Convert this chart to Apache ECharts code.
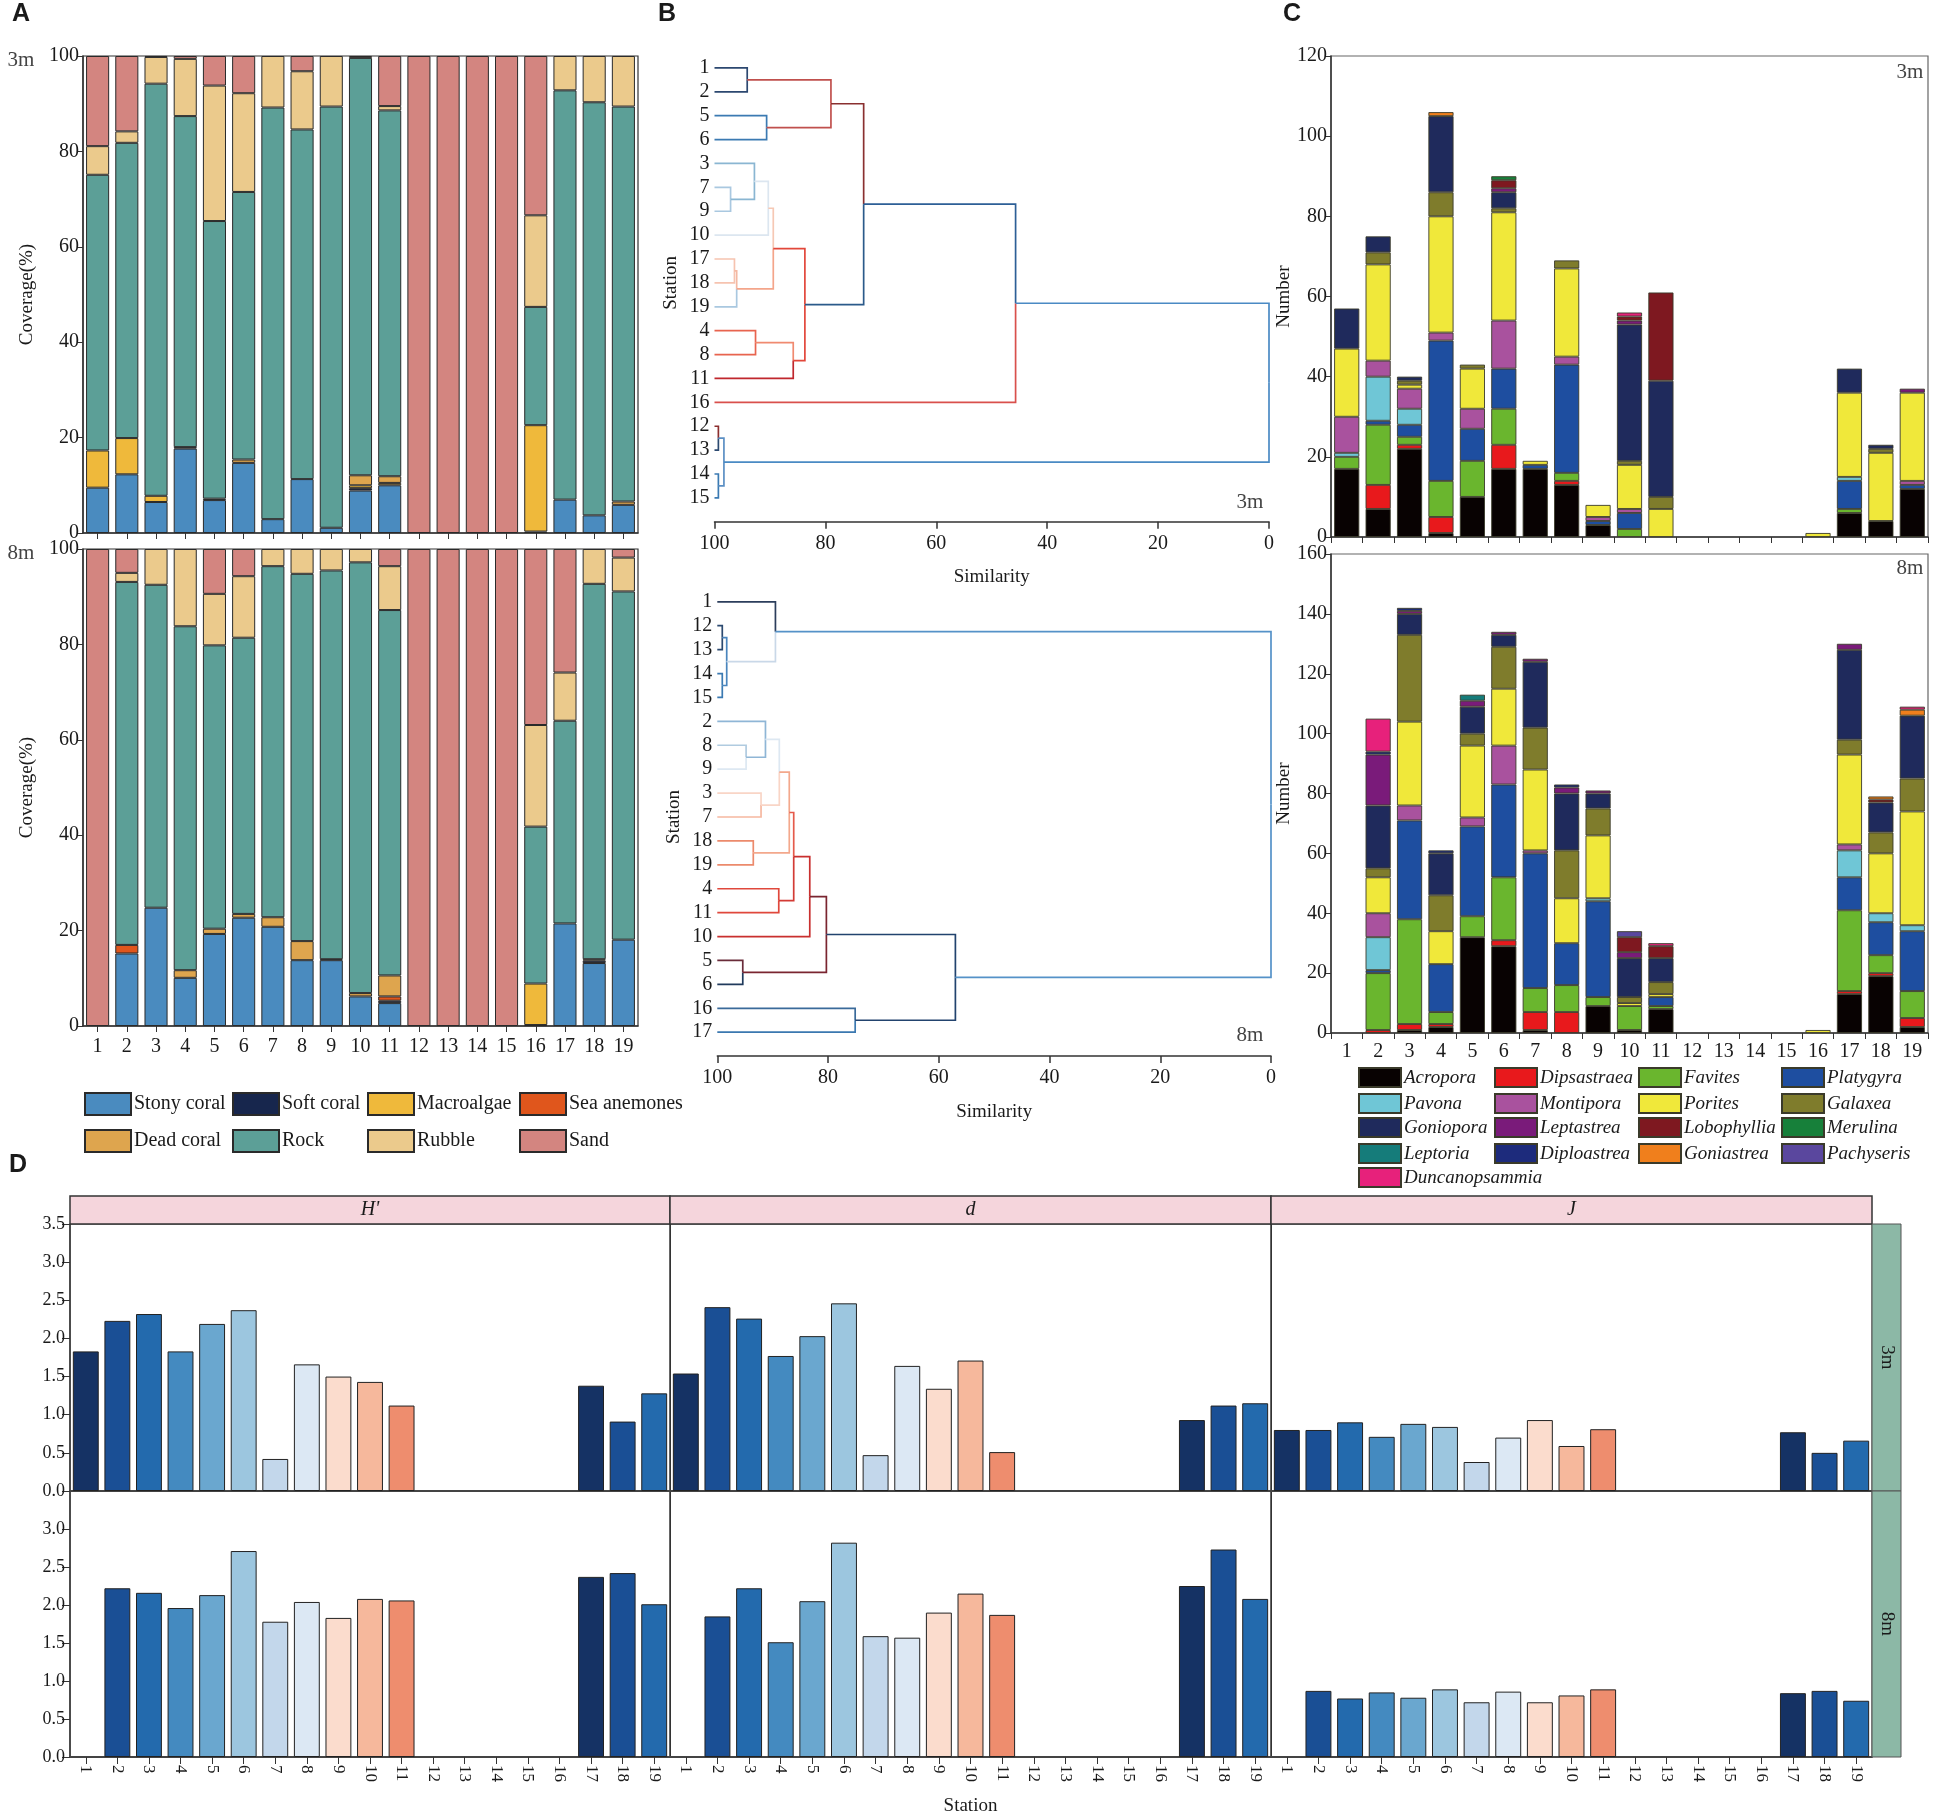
<!DOCTYPE html>
<html><head><meta charset="utf-8">
<script src="https://cdn.jsdelivr.net/npm/echarts@6/dist/echarts.min.js"></script>
<style>html,body{margin:0;padding:0;background:#fff}#c{width:1935px;height:1819px}</style>
</head><body><div id="c"></div>
<script>
// ---------------- DATA ----------------
const stations = ['1','2','3','4','5','6','7','8','9','10','11','12','13','14','15','16','17','18','19'];

// Panel A : coverage (%) segments per category, stations 1..19
const coverCats = ['Stony coral','Soft coral','Macroalgae','Sea anemones','Dead coral','Rock','Rubble','Sand'];
const stony3m   = [9.5,12.3,6.5,17.7,6.9,14.7,2.9,11.3,1.1,8.9,10.0,0,0,0,0,0.3,7.0,3.7,5.9];
const soft3m    = [0,0,0,0.3,0.3,0,0,0,0,0.5,0,0,0,0,0,0,0,0,0];
const macro3m   = [7.8,7.6,1.3,0,0,0,0,0,0,0.6,0.5,0,0,0,0,22.3,0,0,0];
const anem3m    = [0,0,0,0,0,0,0,0,0,0,0,0,0,0,0,0,0,0,0];
const dead3m    = [0,0,0,0,0,0.7,0,0,0,2.1,1.4,0,0,0,0,0,0,0,0.7];
const rock3m    = [57.8,61.9,86.4,69.4,58.2,56.1,86.3,73.3,88.3,87.5,76.7,0,0,0,0,24.8,85.8,86.6,82.8];
const rubble3m  = [6.0,2.4,5.6,12.0,28.4,20.7,10.8,12.2,10.6,0.4,0.9,0,0,0,0,19.2,7.2,9.7,10.6];
const sand3m    = [18.9,15.8,0.2,0.6,6.2,7.8,0,3.2,0,0,10.5,100,100,100,100,33.4,0,0,0];
const stony8m   = [0,15.2,24.8,10.1,19.3,22.7,20.8,13.8,13.8,6.2,4.8,0,0,0,0,0.2,21.5,13.2,18.1];
const soft8m    = [0,0,0,0,0,0,0,0,0.2,0,0.5,0,0,0,0,0,0,0.5,0];
const macro8m   = [0,0,0,0,0,0,0,0,0,0,0,0,0,0,0,8.7,0,0,0];
const anem8m    = [0,1.8,0,0,0,0,0,0,0,0,0.9,0,0,0,0,0,0,0,0];
const dead8m    = [0,0,0,1.6,1.1,0.8,2.0,4.0,0,0.7,4.4,0,0,0,0,0,0,0.3,0];
const rock8m    = [0,76.1,67.7,72.1,59.4,57.9,73.6,77.0,81.5,90.3,76.6,0,0,0,0,32.9,42.5,78.7,73.0];
const rubble8m  = [0,1.9,7.5,16.2,10.8,12.9,3.6,5.2,4.5,2.8,9.2,0,0,0,0,21.3,10.1,7.3,7.1];
const sand8m    = [100,5.0,0,0,9.4,5.7,0,0,0,0,3.6,100,100,100,100,36.9,25.9,0,1.8];

// Panel B : dendrograms (leaf order, merges [childA, childB, similarity])
const leaves3m = ['1','2','5','6','3','7','9','10','17','18','19','4','8','11','16','12','13','14','15'];
const merges3m = [[0,1,94.1],[2,3,90.6],[19,20,79.0],[5,6,97.1],[4,22,92.8],[23,7,90.3],[8,9,96.4],[25,10,96.0],
  [24,26,89.4],[11,12,92.6],[28,13,85.8],[27,29,83.7],[21,30,73.1],[31,14,45.7],[15,16,99.3],[17,18,99.3],[33,34,98.3],[32,35,0]];
const leaves8m = ['1','12','13','14','15','2','8','9','3','7','18','19','4','11','10','5','6','16','17'];
const merges8m = [[1,2,99.1],[3,4,99.1],[19,20,98.3],[0,21,89.5],[6,7,94.8],[5,23,91.3],[8,9,92.1],[24,25,88.8],
  [10,11,93.5],[26,27,87.0],[12,13,88.9],[28,29,86.2],[30,14,83.3],[15,16,95.4],[31,32,80.3],[17,18,75.1],[33,34,57.0],[22,35,0]];

// Panel C : coral colony numbers per genus
const genera = ['Acropora','Dipsastraea','Favites','Platygyra','Pavona','Montipora','Porites','Galaxea','Goniopora',
  'Leptastrea','Lobophyllia','Merulina','Leptoria','Diploastrea','Goniastrea','Pachyseris','Duncanopsammia'];
const acropora3m   = [17,7,22,1,10,17,17,13,3,0,0,0,0,0,0,0,6,4,12];
const dipsastraea3m= [0,6,1,4,0,6,0,1,0,0,0,0,0,0,0,0,0,0,0];
const favites3m    = [3,15,2,9,9,9,0,2,0,2,0,0,0,0,0,0,1,0,0];
const platygyra3m  = [0,1,3,35,8,10,1,27,1,4,0,0,0,0,0,0,7,0,1];
const pavona3m     = [1,11,4,0,0,0,0,0,0,0,0,0,0,0,0,0,1,0,0];
const montipora3m  = [9,4,5,2,5,12,0,2,1,1,0,0,0,0,0,0,0,0,1];
const porites3m    = [17,24,1,29,10,27,1,22,3,11,7,0,0,0,0,1,21,17,22];
const galaxea3m    = [0,3,1,6,1,1,0,2,0,1,3,0,0,0,0,0,0,1,0];
const goniopora3m  = [10,4,1,19,0,4,0,0,0,34,29,0,0,0,0,0,6,1,0];
const leptastrea3m = [0,0,0,0,0,1,0,0,0,1,0,0,0,0,0,0,0,0,1];
const lobophyllia3m= [0,0,0,0,0,2,0,0,0,1,22,0,0,0,0,0,0,0,0];
const merulina3m   = [0,0,0,0,0,1,0,0,0,0,0,0,0,0,0,0,0,0,0];
const leptoria3m   = [0,0,0,0,0,0,0,0,0,0,0,0,0,0,0,0,0,0,0];
const diploastrea3m= [0,0,0,0,0,0,0,0,0,0,0,0,0,0,0,0,0,0,0];
const goniastrea3m = [0,0,0,1,0,0,0,0,0,0,0,0,0,0,0,0,0,0,0];
const pachyseris3m = [0,0,0,0,0,0,0,0,0,0,0,0,0,0,0,0,0,0,0];
const duncan3m     = [0,0,0,0,0,0,0,0,0,1,0,0,0,0,0,0,0,0,0];
const acropora8m   = [0,0,1,2,32,29,1,0,9,1,8,0,0,0,0,0,13,19,2];
const dipsastraea8m= [0,1,2,1,0,2,6,7,0,0,0,0,0,0,0,0,1,1,3];
const favites8m    = [0,19,35,4,7,21,8,9,3,8,1,0,0,0,0,0,27,6,9];
const platygyra8m  = [0,1,33,16,30,31,45,14,32,0,3,0,0,0,0,0,11,11,20];
const pavona8m     = [0,11,0,0,0,0,0,0,1,0,0,0,0,0,0,0,9,3,2];
const montipora8m  = [0,8,5,0,3,13,1,0,0,0,0,0,0,0,0,0,2,0,0];
const porites8m    = [0,12,28,11,24,19,27,15,21,1,1,0,0,0,0,1,30,20,38];
const galaxea8m    = [0,3,29,12,4,14,14,16,9,2,4,0,0,0,0,0,5,7,11];
const goniopora8m  = [0,21,7,14,9,4,22,19,5,13,8,0,0,0,0,0,30,10,21];
const leptastrea8m = [0,17,1,0,2,1,1,2,1,2,0,0,0,0,0,0,2,0,0];
const lobophyllia8m= [0,0,0,0,0,0,0,0,0,5,4,0,0,0,0,0,0,1,0];
const merulina8m   = [0,0,0,0,0,0,0,0,0,0,0,0,0,0,0,0,0,0,0];
const leptoria8m   = [0,0,0,0,2,0,0,0,0,0,0,0,0,0,0,0,0,0,0];
const diploastrea8m= [0,1,1,1,0,0,0,1,0,0,0,0,0,0,0,0,0,0,0];
const goniastrea8m = [0,0,0,0,0,0,0,0,0,0,0,0,0,0,0,0,0,1,2];
const pachyseris8m = [0,0,0,0,0,0,0,0,0,2,0,0,0,0,0,0,0,0,0];
const duncan8m     = [0,11,0,0,0,0,0,0,0,0,1,0,0,0,0,0,0,0,1];

// Panel D : diversity indices
const indexNames = ["H'", 'd', 'J'];
const H3m = [1.83,2.23,2.32,1.83,2.19,2.37,0.42,1.66,1.50,1.43,1.12,0,0,0,0,0,1.38,0.91,1.28];
const d3m = [1.54,2.41,2.26,1.77,2.03,2.46,0.47,1.64,1.34,1.71,0.51,0,0,0,0,0,0.93,1.12,1.15];
const J3m = [0.80,0.80,0.90,0.71,0.88,0.84,0.38,0.70,0.93,0.59,0.81,0,0,0,0,0,0.77,0.50,0.66];
const H8m = [0,2.22,2.16,1.96,2.13,2.71,1.78,2.04,1.83,2.08,2.06,0,0,0,0,0,2.37,2.42,2.01];
const d8m = [0,1.85,2.22,1.51,2.05,2.82,1.59,1.57,1.90,2.15,1.87,0,0,0,0,0,2.25,2.73,2.08];
const J8m = [0,0.87,0.77,0.85,0.78,0.89,0.72,0.86,0.72,0.81,0.89,0,0,0,0,0,0.84,0.87,0.74];

// ---------------- STYLES ----------------
const serif = "'Liberation Serif','Times New Roman',serif";
const coverColors = ['#4a8bbf','#17264d','#efb93b','#e0561c','#dea54e','#5c9f97','#ebca8c','#d38580'];
const genusColors = ['#080202','#e8191c','#6ab62e','#1e4ea0','#6fc6d6','#a9529e','#f0e83a','#7f7c2c','#1f2a5c',
  '#7a1b7a','#7e1820','#17803a','#157c7a','#1d2b7c','#f07f1c','#5a479e','#e7217b'];
const dPalette = ['#153264','#1a4f95','#236aad','#448ac0','#6aa7cf','#9cc6df','#c3d7eb','#dce8f4','#fbdccd','#f6b89c',
  '#ee8d6e','#d6604d','#b2182b','#67001f','#8c2d3c','#5a1a2a'];
const dendroColors3m = [['#2c4870','#2c4870'],['#3b7ab2','#3b7ab2'],['#c0504d','#c0504d'],['#a9c8e0','#a9c8e0'],
  ['#8ab6d2','#8ab6d2'],['#dce6f0','#dce6f0'],['#f6c3b0','#f6c3b0'],['#f4b8a2','#a9c8e0'],['#f6c8b4','#f4a58a'],
  ['#e8644f','#e8644f'],['#f08a70','#c0272d'],['#e2473a','#e2473a'],['#8a3030','#2b5a8a'],['#2d5f96','#d9504c'],
  ['#8b2e2e','#2c4a70'],['#3b7ab2','#3b7ab2'],['#5b8fc4','#5b8fc4'],['#4a8ac4','#4a8ac4']];
const dendroColors8m = [['#2c4a70','#2c4a70'],['#3b7ab2','#3b7ab2'],['#4a85bd','#4a85bd'],['#2c3e5c','#c9d8e8'],
  ['#b0cbe0','#dde8f2'],['#8fb6d6','#8fb6d6'],['#f9d5c6','#f6b8a0'],['#dde8f2','#f9d5c6'],['#ec8a6c','#ec8a6c'],
  ['#f3a88c','#f3a88c'],['#e0483c','#e0483c'],['#e55a4a','#d33b35'],['#c9302f','#c9302f'],['#6a2c3a','#203a5c'],
  ['#7a2530','#7a2530'],['#3a6a9a','#3b78b0'],['#22436e','#22436e'],['#5592c8','#5592c8']];

const axisCol = '#333';
const lbl = (fs, extra) => Object.assign({fontFamily: serif, fontSize: fs, color: '#1a1a1a'}, extra || {});
const nz = arr => arr.map(v => (v > 0 ? v : '-'));

// ---------------- LAYOUT ----------------
const grids = [
  {left: 83, top: 56, width: 555, height: 477, show: true, borderColor: '#333', borderWidth: 1.2},
  {left: 83, top: 549, width: 555, height: 477, show: true, borderColor: '#333', borderWidth: 1.2},
  {left: 714.5, top: 44, width: 554.5, height: 477.8},
  {left: 717.3, top: 577.9, width: 553.7, height: 478.2},
  {left: 1331, top: 56, width: 597, height: 481, show: true, borderColor: '#666', borderWidth: 1.2},
  {left: 1331, top: 554, width: 597, height: 479, show: true, borderColor: '#666', borderWidth: 1.2}
];
const dCols = [[70, 600], [670, 601], [1271, 601]];
const dRows = [[1224, 267], [1491, 266]];
dRows.forEach(r => dCols.forEach(c => grids.push({left: c[0], top: r[0], width: c[1], height: r[1], show: true, borderColor: '#333', borderWidth: 1})));

const xAxes = [], yAxes = [];
// A
[0, 1].forEach(g => {
  xAxes.push({type: 'category', gridIndex: g, data: stations,
    axisLine: {lineStyle: {color: axisCol, width: 1.5}},
    axisTick: {show: true, alignWithLabel: true, length: 6, lineStyle: {color: axisCol}},
    axisLabel: lbl(20, {show: g === 1, interval: 0, margin: 11})});
  yAxes.push({type: 'value', gridIndex: g, min: 0, max: 100, interval: 20,
    axisLine: {show: true, lineStyle: {color: axisCol, width: 1.5}},
    axisTick: {show: true, length: 6, lineStyle: {color: axisCol}},
    axisLabel: lbl(20, {margin: 4}), splitLine: {show: false},
    name: 'Coverage(%)', nameLocation: 'middle', nameGap: 46, nameTextStyle: lbl(19)});
});
// B
[[2, leaves3m], [3, leaves8m]].forEach(([g, lv]) => {
  xAxes.push({type: 'value', gridIndex: g, min: 0, max: 100, interval: 20, inverse: true, position: 'bottom',
    axisLine: {show: true, onZero: false, lineStyle: {color: axisCol, width: 1.5}},
    axisTick: {show: true, length: 7, lineStyle: {color: axisCol, width: 1.5}},
    axisLabel: lbl(20, {margin: 12}), splitLine: {show: false},
    name: 'Similarity', nameLocation: 'middle', nameGap: 46, nameTextStyle: lbl(19)});
  yAxes.push({type: 'value', gridIndex: g, min: -1, max: 19, interval: 1, inverse: true,
    axisLine: {show: false}, axisTick: {show: false}, splitLine: {show: false},
    axisLabel: lbl(20, {margin: 5, formatter: v => (lv[v] !== undefined ? lv[v] : '')}),
    name: 'Station', nameLocation: 'middle', nameGap: 34, nameTextStyle: lbl(19)});
});
// C
[[4, 120], [5, 160]].forEach(([g, mx]) => {
  xAxes.push({type: 'category', gridIndex: g, data: stations,
    axisLine: {lineStyle: {color: axisCol, width: 1.5}},
    axisTick: {show: true, length: 6, lineStyle: {color: axisCol}},
    axisLabel: lbl(20, {show: g === 5, interval: 0, margin: 9})});
  yAxes.push({type: 'value', gridIndex: g, min: 0, max: mx, interval: 20,
    axisLine: {show: true, lineStyle: {color: axisCol, width: 1.5}},
    axisTick: {show: true, length: 6, lineStyle: {color: axisCol}},
    axisLabel: lbl(20, {margin: 4}), splitLine: {show: false},
    name: 'Number', nameLocation: 'middle', nameGap: 36, nameTextStyle: lbl(19)});
});
// D
for (let r = 0; r < 2; r++) for (let c = 0; c < 3; c++) {
  const g = 6 + r * 3 + c;
  xAxes.push({type: 'category', gridIndex: g, data: stations,
    axisLine: {lineStyle: {color: '#444', width: 2}},
    axisTick: {show: r === 1, alignWithLabel: true, length: 7, lineStyle: {color: axisCol}},
    axisLabel: lbl(17, {show: r === 1, interval: 0, rotate: -90, margin: 8}),
    name: (r === 1 && c === 1) ? 'Station' : '', nameLocation: 'middle', nameGap: 40, nameTextStyle: lbl(19)});
  yAxes.push({type: 'value', gridIndex: g, min: 0, max: 3.5, interval: 0.5,
    axisLine: {show: true, lineStyle: {color: '#333', width: c === 0 ? 1.5 : 1}},
    axisTick: {show: c === 0, length: 8, lineStyle: {color: axisCol}},
    axisLabel: lbl(18, {show: c === 0, margin: 5, showMaxLabel: r === 0, formatter: v => v.toFixed(1)}),
    splitLine: {show: false}});
}

// ---------------- SERIES ----------------
const series = [];
const cover3m = [stony3m, soft3m, macro3m, anem3m, dead3m, rock3m, rubble3m, sand3m];
const cover8m = [stony8m, soft8m, macro8m, anem8m, dead8m, rock8m, rubble8m, sand8m];
coverCats.forEach((nm, k) => {
  [[0, cover3m[k], 'A3'], [1, cover8m[k], 'A8']].forEach(([g, arr, st]) => {
    series.push({type: 'bar', name: nm, stack: st, xAxisIndex: g, yAxisIndex: g, data: nz(arr),
      barCategoryGap: '21%', itemStyle: {color: coverColors[k], borderColor: '#2a2a2a', borderWidth: 1}});
  });
});

function dendro(leaves, merges, colors) {
  const pos = leaves.map((_, i) => i), hgt = leaves.map(() => 100), out = [];
  merges.forEach((m, k) => {
    const [a, b, h] = m; const ya = pos[a], yb = pos[b], ym = (ya + yb) / 2;
    out.push({coords: [[hgt[a], ya], [h, ya], [h, ym]], lineStyle: {color: colors[k][0]}});
    out.push({coords: [[h, ym], [h, yb], [hgt[b], yb]], lineStyle: {color: colors[k][1]}});
    pos.push(ym); hgt.push(h);
  });
  return out;
}
series.push({type: 'lines', coordinateSystem: 'cartesian2d', xAxisIndex: 2, yAxisIndex: 2, polyline: true,
  lineStyle: {width: 1.7, opacity: 1}, data: dendro(leaves3m, merges3m, dendroColors3m)});
series.push({type: 'lines', coordinateSystem: 'cartesian2d', xAxisIndex: 3, yAxisIndex: 3, polyline: true,
  lineStyle: {width: 1.7, opacity: 1}, data: dendro(leaves8m, merges8m, dendroColors8m)});

const gen3m = [acropora3m, dipsastraea3m, favites3m, platygyra3m, pavona3m, montipora3m, porites3m, galaxea3m, goniopora3m,
  leptastrea3m, lobophyllia3m, merulina3m, leptoria3m, diploastrea3m, goniastrea3m, pachyseris3m, duncan3m];
const gen8m = [acropora8m, dipsastraea8m, favites8m, platygyra8m, pavona8m, montipora8m, porites8m, galaxea8m, goniopora8m,
  leptastrea8m, lobophyllia8m, merulina8m, leptoria8m, diploastrea8m, goniastrea8m, pachyseris8m, duncan8m];
genera.forEach((nm, k) => {
  [[4, gen3m[k], 'C3'], [5, gen8m[k], 'C8']].forEach(([g, arr, st]) => {
    series.push({type: 'bar', name: nm, stack: st, xAxisIndex: g, yAxisIndex: g, data: nz(arr),
      barCategoryGap: '20%', itemStyle: {color: genusColors[k], borderColor: '#3a3a2a', borderWidth: 0.9}});
  });
});

const dData = [[H3m, d3m, J3m], [H8m, d8m, J8m]];
for (let r = 0; r < 2; r++) for (let c = 0; c < 3; c++) {
  const g = 6 + r * 3 + c;
  series.push({type: 'bar', name: indexNames[c] + (r ? ' 8m' : ' 3m'), xAxisIndex: g, yAxisIndex: g, barCategoryGap: '18%',
    data: dData[r][c].map((v, i) => (v > 0 ? {value: v, itemStyle: {color: dPalette[i % 16]}} : '-')),
    itemStyle: {borderColor: '#222', borderWidth: 1}});
}

// ---------------- LEGENDS ----------------
const legends = [];
const aColX = [84, 232, 367, 519], aRowY = [1092, 1129];
coverCats.forEach((nm, k) => legends.push({data: [nm], left: aColX[k % 4], top: aRowY[Math.floor(k / 4)], orient: 'horizontal',
  icon: 'rect', itemWidth: 46, itemHeight: 22, selectedMode: false, padding: 0, textStyle: lbl(20, {padding: [0, 0, 0, -2]})}));
const cColX = [1358, 1494, 1638, 1781], cRowY = [1067, 1093, 1117, 1143, 1167];
genera.forEach((nm, k) => legends.push({data: [nm], left: cColX[k % 4], top: cRowY[Math.floor(k / 4)], orient: 'horizontal',
  icon: 'rect', itemWidth: 42, itemHeight: 19, selectedMode: false, padding: 0, textStyle: lbl(19, {fontStyle: 'italic', padding: [0, 0, 0, -2]})}));

// ---------------- GRAPHICS ----------------
const gr = [];
function txt(x, y, text, font, opt) {
  opt = opt || {};
  gr.push({type: 'text', x: x, y: y, rotation: opt.rot || 0, silent: true, z: 20,
    style: {text: text, font: font, fill: opt.fill || '#1a1a1a', align: opt.align || 'center', verticalAlign: opt.valign || 'middle'}});
}
const bold = "bold 25px 'Liberation Sans', Arial, sans-serif";
txt(12, 2, 'A', bold, {align: 'left', valign: 'top'});
txt(658, 2, 'B', bold, {align: 'left', valign: 'top'});
txt(1283, 2, 'C', bold, {align: 'left', valign: 'top'});
txt(9, 1153, 'D', bold, {align: 'left', valign: 'top'});
const small = "21px 'Liberation Serif', serif";
txt(21, 60, '3m', small, {fill: '#444'});
txt(21, 553, '8m', small, {fill: '#444'});
txt(1250, 502, '3m', small, {fill: '#444'});
txt(1250, 1035, '8m', small, {fill: '#444'});
txt(1910, 72, '3m', small, {fill: '#444'});
txt(1910, 568, '8m', small, {fill: '#444'});
// facet strips
dCols.forEach((c, i) => {
  gr.push({type: 'rect', z: 5, silent: true, shape: {x: c[0], y: 1196, width: c[1], height: 28},
    style: {fill: '#f5d5dc', stroke: '#333', lineWidth: 1.5}});
  txt(c[0] + c[1] / 2, 1210, indexNames[i], "italic 20px 'Liberation Serif', serif");
});
dRows.forEach((r, i) => {
  gr.push({type: 'rect', z: 5, silent: true, shape: {x: 1872, y: r[0], width: 29, height: r[1]},
    style: {fill: '#8cb8a6', stroke: '#555', lineWidth: 1}});
  txt(1887, r[0] + r[1] / 2, i ? '8m' : '3m', "19px 'Liberation Serif', serif", {rot: -Math.PI / 2});
});

const chart = echarts.init(document.getElementById('c'), null, {renderer: 'canvas', width: 1935, height: 1819});
chart.setOption({
  animation: false, backgroundColor: '#fff',
  grid: grids, xAxis: xAxes, yAxis: yAxes, series: series, legend: legends, graphic: gr
});
</script></body></html>
